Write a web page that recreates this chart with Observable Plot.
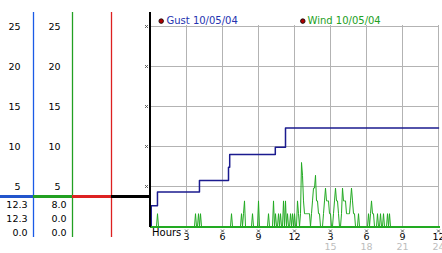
<!DOCTYPE html>
<html><head><meta charset="utf-8">
<script src="https://cdn.jsdelivr.net/npm/d3@7"></script>
<script src="https://cdn.jsdelivr.net/npm/@observablehq/plot@0.6"></script>
<style>
html,body{margin:0;padding:0;background:#fff;}
#chart{width:442px;height:253px;overflow:hidden;}
</style></head><body><div id="chart"></div>
<script>
// ---- data ----
const gustHours  = [0, 0.06, 0.58, 4.08, 6.5, 6.6, 10.4, 11.25, 24];
const gustValues = [0, 2.6, 4.3, 5.75, 7.4, 9.0, 9.9, 12.3, 12.3];

const windStepMinutes = 5;
const windValues = [
  0,0,0,0,0,0,0,1.6,0,0,0,0,
  0,0,0,0,0,0,0,0,0,0,0,0,
  0,0,0,0,0,0,0,0,0,0,0,0,
  0,0,0,0,0,0,0,0,0,1.6,0,0,
  1.6,0,1.6,0,0,0,0,0,0,0,0,0,
  0,0,0,0,0,0,0,0,0,0,0,0,
  0,0,0,0,0,0,0,0,0,1.6,0,0,
  0,0,0,0,0,0,0,1.6,0,1.6,3.2,0,
  0,0,0,0,0,0,1.6,0,0,0,0,0,
  3.2,0,0,0,0,0,0,0,0,0,1.6,0,
  0,0,0,3.2,0,1.6,0,0,1.6,0,1.6,0,
  0,3.2,0,3.2,0,1.6,0,0,1.6,0,1.6,0,
  1.6,0,0,3.2,1.6,0,1.6,8.0,6.4,3.2,1.6,1.6,
  1.6,1.6,1.6,1.6,0,1.6,3.2,4.8,4.8,6.4,3.2,3.2,
  1.6,1.6,0,0,0,1.6,3.2,4.8,3.2,3.2,3.2,1.6,
  1.6,0,0,1.6,3.2,4.8,3.2,3.2,1.6,0,0,1.6,
  4.8,3.2,3.2,3.2,1.6,1.6,1.6,1.6,3.2,4.8,3.2,1.6,
  1.6,0,0,0,1.6,0,0,0,0,0,0,0,
  0,0,1.6,0,1.6,3.2,1.6,1.6,0,0,0,1.6,
  0,0,1.6,0,0,1.6,0,0,0,1.6,0,1.6,
  0,0,0,0,0,0,0,0,0,0,0,0,
  0,0,0,0,0,0,0,0,0,0,0,0,
  0,0,0,0,0,0,0,0,0,0,0,0,
  0,0,0,0,0,0,0,0,0,0,0,0,
  0
];

const yTicks = [5, 10, 15, 20, 25];
const xTicks = [3, 6, 9, 12, 15, 18, 21, 24];
const xTickLabels12 = ["3","6","9","12","3","6","9","12"];
const xTickLabels24 = ["","","","","15","18","21","24"];
const gustStats = ["12.3", "12.3", "0.0"];
const windStats = ["8.0", "0.0", "0.0"];
const gustLegend = "Gust 10/05/04";
const windLegend = "Wind 10/05/04";
const xLabel = "Hours";

const gust = gustHours.map((h, i) => ({h, v: gustValues[i]}));
const wind = windValues.map((v, i) => ({h: i * windStepMinutes / 60, v}));

// ---- layout (x scale extended to the left to hold the side panel) ----
const xLeft = -12.5, gustCol = -9.75, windCol = -6.5, redCol = -3.25;
const topY = 26.75, bottomY = -1.375, sepY = 3.69;
const GRID = "#b3b3b3";
const FONT = "DejaVu Sans, Verdana, sans-serif";
const crisp = {shapeRendering: "crispEdges"};

const chart = Plot.plot({
  width: 442, height: 253,
  marginTop: 26, marginBottom: 27, marginLeft: 0, marginRight: 4,
  style: {background: "#fff", fontFamily: FONT, fontSize: "10px", color: "#000", overflow: "visible"},
  x: {domain: [xLeft, 24], axis: null},
  y: {domain: [0, 25], axis: null},
  marks: [
    // grid
    Plot.ruleY(yTicks, {x1: 0, x2: 24.12, stroke: GRID, strokeWidth: 1, ...crisp}),
    Plot.ruleX(xTicks, {y1: 0, y2: 25.1, stroke: GRID, strokeWidth: 1, ...crisp}),
    // series
    Plot.line(gust, {x: "h", y: "v", curve: "step-after", stroke: "#1b1b8f", strokeWidth: 1.5}),
    Plot.ruleY([0], {x1: 0, x2: 24.2, stroke: "#22aa22", strokeWidth: 2, ...crisp}),
    Plot.line(wind, {x: "h", y: "v", stroke: "#22aa22", strokeWidth: 1}),
    // side panel lines
    Plot.ruleX([gustCol], {y1: topY, y2: bottomY, stroke: "#1a5ae6", strokeWidth: 1.3}),
    Plot.ruleX([windCol], {y1: topY, y2: bottomY, stroke: "#22a022", strokeWidth: 1.3}),
    Plot.ruleX([redCol], {y1: topY, y2: bottomY, stroke: "#dd2020", strokeWidth: 1.3}),
    Plot.ruleY([sepY], {x1: xLeft, x2: gustCol, stroke: "#2255cc", strokeWidth: 3, ...crisp}),
    Plot.ruleY([sepY], {x1: gustCol, x2: windCol, stroke: "#22a022", strokeWidth: 3, ...crisp}),
    Plot.ruleY([sepY], {x1: windCol, x2: redCol, stroke: "#dd2222", strokeWidth: 3, ...crisp}),
    Plot.ruleY([sepY], {x1: redCol, x2: 0, stroke: "#000", strokeWidth: 3, ...crisp}),
    Plot.ruleX([0], {y1: topY, y2: -0.125, stroke: "#000", strokeWidth: 2, dx: -1, ...crisp}),
    // side panel tick labels
    Plot.text(yTicks, {x: gustCol, y: d => d, text: d => String(d), dx: -13, textAnchor: "end", fontSize: 9.5}),
    Plot.text(yTicks, {x: windCol, y: d => d, text: d => String(d), dx: -12, textAnchor: "end", fontSize: 9.5}),
    Plot.text([gustStats.join("\n")], {x: gustCol, y: sepY, text: d => d, dx: -6, dy: 1.5, textAnchor: "end", lineAnchor: "top", lineHeight: 1.45, fontSize: 9.5}),
    Plot.text([windStats.join("\n")], {x: windCol, y: sepY, text: d => d, dx: -6, dy: 1.5, textAnchor: "end", lineAnchor: "top", lineHeight: 1.45, fontSize: 9.5}),
    // tick markers
    Plot.dot(yTicks, {x: 0, y: d => d, dx: -4, symbol: "times", r: 1.4, stroke: "#555", strokeWidth: 1}),
    Plot.dot(xTicks, {x: d => d, y: 0, dy: 4.5, symbol: "times", r: 1.4, stroke: "#555", strokeWidth: 1}),
    // x labels
    Plot.text(xTicks, {x: d => d, y: 0, text: (d, i) => xTickLabels12[i], dy: 10, fontSize: 9.5, fill: "#000"}),
    Plot.text(xTicks, {x: d => d, y: 0, text: (d, i) => xTickLabels24[i], dy: 20.5, fontSize: 9.5, fill: "#bdbdbd"}),
    Plot.text([xLabel], {x: 0, y: 0, text: d => d, dx: 1.5, dy: 6.5, textAnchor: "start", fontSize: 10}),
    // legends
    Plot.dot([gustLegend], {frameAnchor: "top-left", dx: 160.7, dy: -5.4, r: 2.3, fill: "#b00000", stroke: "#000", strokeWidth: 0.8}),
    Plot.text([gustLegend], {frameAnchor: "top-left", text: d => d, dx: 166, dy: -5.6, textAnchor: "start", lineAnchor: "middle", fill: "#2433b0", fontSize: 10}),
    Plot.dot([windLegend], {frameAnchor: "top-left", dx: 302.3, dy: -5.4, r: 2.3, fill: "#b00000", stroke: "#000", strokeWidth: 0.8}),
    Plot.text([windLegend], {frameAnchor: "top-left", text: d => d, dx: 307, dy: -5.6, textAnchor: "start", lineAnchor: "middle", fill: "#22a022", fontSize: 10})
  ]
});
document.getElementById("chart").appendChild(chart);
</script>
</body></html>
